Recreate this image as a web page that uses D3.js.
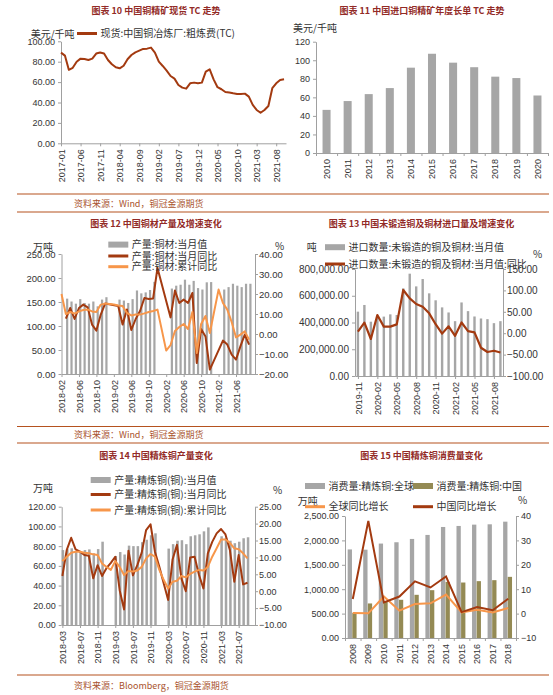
<!DOCTYPE html>
<html>
<head>
<meta charset="utf-8">
<script src="https://cdn.jsdelivr.net/npm/d3@7"></script>
<style>
  html, body { margin: 0; padding: 0; background: #fff; }
  svg { display: block; }
</style>
</head>
<body>
<svg id="chart" width="553" height="695"></svg>
<script>
// month labels "YYYY-MM" starting at year/month
function monthRange(year, month, count) {
  const out = [];
  for (let k = 0; k < count; k++) {
    const m = month - 1 + k;
    out.push(year + Math.floor(m / 12) + "-" + String(m % 12 + 1).padStart(2, "0"));
  }
  return out;
}

// ---- 图表10: TC spot ----
const tcMonths = monthRange(2017, 1, 58);
const tcTicks = ["2017-01","2017-06","2017-11","2018-04","2018-09","2019-02","2019-07","2019-12","2020-05","2020-10","2021-03","2021-08"];
const tcSpot = [88.9,86,72,74,80,83,82.7,81.7,83,88,89,88,81.7,77.5,74.5,73.5,76,82.4,86.6,89.2,90.8,92.5,92.8,93.8,
  89,80,75.8,71.2,66,63.4,57.2,54.6,53.6,58.8,59.5,58.8,59.5,70.3,72.5,62.7,55,53,50.3,49.7,49,48.4,48.4,48.7,
  45.8,37.6,32.7,30,32.7,36.6,54,58.8,62,62.7];

// ---- 图表11: annual benchmark TC ----
const tcYears = ["2010","2011","2012","2013","2014","2015","2016","2017","2018","2019","2020"];
const tcBenchmark = [46.5,56,63.5,70,92,107,97.4,92.5,82.3,80.8,62];

// ---- 图表12: copper products output ----
const cpMonths = monthRange(2018, 2, 44);
const cpTicks = ["2018-02","2018-06","2018-10","2019-02","2019-06","2019-10","2020-02","2020-06","2020-10","2021-02","2021-06"];
const cpOutput = [null,157,151,146.5,156,148,146.5,151,141,155,160,
  null,null,155,153,148,156,174,168,170,175,192,null,
  null,null,178,184,186,196.5,186,194,179,176,191,191.5,
  null,null,176,181,188,184,181,188,188];
const cpYoY = [null,7.7,13,7.5,13,14.7,13.3,4.7,1.7,9.7,15.2,
  null,null,14,4.7,12.3,2,7.5,11.5,18,17.5,17.8,33,
  null,null,8.3,21.7,15.5,17.2,15.5,20.5,-14.5,2.5,-1.2,-17.8,
  null,null,-3.3,-5.3,-10.3,-12.8,-6.2,-0.3,-5.3];
const cpCumYoY = [20,10,11,10.2,11.3,12,12.3,11.3,11,14.7,15.2,
  null,14.7,14.3,14,10.5,9.3,9.7,9.7,10.3,11,11.5,12.2,
  null,-8.3,-5.5,1.5,3.5,5,2.5,11,-9.5,5,9,0.5,
  null,22.2,15.5,12.2,6,-1.7,-0.3,1.3,-2.8];

// ---- 图表13: unwrought copper imports ----
const imMonths = monthRange(2019, 11, 23);
const imTicks = ["2019-11","2020-02","2020-05","2020-08","2020-11","2021-02","2021-05","2021-08"];
const imVolume = [481000,531000,406000,440000,444000,461000,456000,655000,765000,670000,725000,618000,
  566000,513000,475000,410000,550000,485000,445000,430000,425000,395000,410000];
const imYoY = [3.6,24.6,-13.5,42.5,15.3,15.3,20.7,101,81.5,68.2,62,46.4,21,-1,16,-6,25,5,2,-34,-44,-41,-45];

// ---- 图表14: refined copper output ----
const rfMonths = monthRange(2018, 3, 43);
const rfTicks = ["2018-03","2018-07","2018-11","2019-03","2019-07","2019-11","2020-03","2020-07","2020-11","2021-03","2021-07"];
const rfOutput = [76,77,77.8,75,74.4,76,76.7,72.7,77,84.5,
  null,null,70,74,71.5,80.5,80,80,84,86.5,91,93,
  null,null,77.5,82,85.5,86,82,90,91,92,95,99,
  null,null,90,88.5,85.5,83,84.5,88,89];
const rfYoY = [4.5,12.2,15.8,12.4,11.7,10.7,10.5,3.8,7.7,4.5,
  6.8,8.4,10.2,0.3,-5.4,12,4.7,7.7,11.4,18.1,19.8,11.7,
  7.2,2.3,-2.6,9.4,13.7,3.8,0,10,10.2,4.8,0.8,11.2,
  14.6,17.1,18.4,16.8,12.2,2.8,10.7,2,2.5];
const rfCumYoY = [8.9,10.2,11.4,11.7,11.7,11.4,11.2,10.9,10.7,8.2,
  7.2,6.3,8.9,7.2,4.8,6,5.8,6.1,7.2,9.7,11,10.2,
  6.3,3.3,0.8,2.8,3.1,4.5,4.1,5.1,5.8,6.3,6.1,7.2,
  10.2,12.7,15.3,15.3,14.3,12.7,12.4,11.2,9.7];

// ---- 图表15: refined copper consumption ----
const csYears = ["2008","2009","2010","2011","2012","2013","2014","2015","2016","2017","2018"];
const csGlobal = [1815,1810,1935,1962,2030,2112,2275,2296,2323,2330,2384];
const csChina = [515,708,745,783,885,980,1150,1137,1165,1185,1253];
const csGlobalYoY = [0.2,0.1,7,1.2,3.9,4.2,7.8,0.5,1.6,0.5,2.3];
const csChinaYoY = [6,38,4.6,7,13.2,10.7,15.2,0.6,2.7,1.4,6.1];

// colours and fonts
const dark = "#a33a10", orange = "#f7964a", gray = "#a6a6a6", olive = "#948a54";
const axisColor = "#a0a0a0", textColor = "#333";
const titleColor = "#922a26", ruleColor = "#b5521f", sourceColor = "#a9532d";
const numFont = "'Liberation Sans', Arial, sans-serif";
const cjkFont = "'Noto Sans CJK SC', sans-serif";

const svg = d3.select("#chart");

function addAxis(gen, tx, ty, fs) {
  const g = svg.append("g").attr("transform", `translate(${tx},${ty})`).call(gen);
  g.select(".domain").attr("stroke", axisColor);
  g.selectAll(".tick line").attr("stroke", axisColor);
  g.selectAll(".tick text").attr("fill", textColor)
    .style("font-family", numFont).style("font-size", fs + "px");
  return g;
}

function rotateLabels(g) {
  g.selectAll(".tick text")
    .attr("x", -6).attr("y", 0).attr("dy", "0.35em")
    .attr("transform", "rotate(-90)")
    .style("text-anchor", "end");
}

function label(x, y, txt, opts = {}) {
  return svg.append("text").attr("x", x).attr("y", y)
    .attr("fill", opts.color || textColor)
    .style("font-family", opts.font || cjkFont)
    .style("font-size", (opts.size || 10) + "px")
    .style("font-weight", opts.weight || "normal")
    .style("text-anchor", opts.anchor || "start")
    .text(txt);
}

function title(cx, y, txt) {
  label(cx, y, txt, { color: titleColor, size: 9, weight: "bold", anchor: "middle" });
}

function legendItem(x, y, type, color, txt) {
  if (type === "bar") {
    svg.append("rect").attr("x", x).attr("y", y - 3).attr("width", 20).attr("height", 6).attr("fill", color);
  } else {
    svg.append("line").attr("x1", x).attr("x2", x + 20).attr("y1", y).attr("y2", y)
      .attr("stroke", color).attr("stroke-width", 3);
  }
  label(x + 23.5, y + 3.5, txt);
}

function drawLine(values, x, y, color, width) {
  const pts = values.map((v, i) => ({ i, v })).filter(d => d.v != null);
  svg.append("path").datum(pts)
    .attr("fill", "none").attr("stroke", color).attr("stroke-width", width)
    .attr("stroke-linejoin", "round")
    .attr("d", d3.line().x(d => x(d.i)).y(d => y(d.v)));
}

function drawBars(values, x, y, color, offset, width) {
  svg.append("g").selectAll("rect")
    .data(values.map((v, i) => ({ i, v })).filter(d => d.v != null))
    .enter().append("rect")
    .attr("x", d => x(d.i) + offset)
    .attr("y", d => y(d.v))
    .attr("width", width)
    .attr("height", d => y(0) - y(d.v))
    .attr("fill", color);
}

const f2 = d3.format(".2f");

// ===== 图表10 =====
title(156, 14, "图表 10  中国铜精矿现货 TC 走势");
const x1 = d3.scaleLinear().domain([0, 57.5]).range([61, 286]);
const y1 = d3.scaleLinear().domain([0, 100]).range([143.3, 41.3]);
addAxis(d3.axisLeft(y1).tickValues(d3.range(0, 101, 20)).tickFormat(f2).tickSize(3).tickSizeOuter(0), 61, 0, 9);
rotateLabels(addAxis(d3.axisBottom(x1).tickValues(tcTicks.map(t => tcMonths.indexOf(t)))
  .tickFormat((d, k) => tcTicks[k]).tickSize(3).tickSizeOuter(0), 0, 143.3, 9));
drawLine(tcSpot, x1, y1, dark, 2);
label(30.7, 37.5, "美元/千吨");
legendItem(77, 33.5, "line", dark, "现货:中国铜冶炼厂:粗炼费(TC)");

// ===== 图表11 =====
title(422, 14, "图表 11  中国进口铜精矿年度长单 TC 走势");
const x2 = d3.scaleBand().domain(tcYears).range([316, 548]).paddingInner(0.62).paddingOuter(0.31);
const x2b = d3.scaleLinear().domain([0, tcYears.length]).range([316, 548]);
const y2 = d3.scaleLinear().domain([0, 120]).range([153, 41.7]);
addAxis(d3.axisLeft(y2).tickValues(d3.range(0, 121, 20)).tickFormat(d3.format("d")).tickSize(3).tickSizeOuter(0), 316, 0, 9);
svg.append("g").selectAll("rect").data(tcYears).enter().append("rect")
  .attr("x", d => x2(d)).attr("width", x2.bandwidth())
  .attr("y", (d, i) => y2(tcBenchmark[i])).attr("height", (d, i) => y2(0) - y2(tcBenchmark[i]))
  .attr("fill", gray);
rotateLabels(addAxis(d3.axisBottom(x2).tickSize(0).tickSizeOuter(0), 0, 153, 9));
addAxis(d3.axisBottom(x2b).tickValues(d3.range(tcYears.length + 1)).tickFormat("").tickSize(3).tickSizeOuter(0), 0, 153, 9);
label(293, 32, "美元/千吨");

// ===== 图表12 =====
title(156, 227, "图表 12  中国铜材产量及增速变化");
const x3 = d3.scaleLinear().domain([0, 44.35]).range([61.5, 255]);
const y3L = d3.scaleLinear().domain([0, 250]).range([374, 254]);
const y3R = d3.scaleLinear().domain([-20, 40]).range([374, 254]);
drawBars(cpOutput, x3, y3L, gray, 0.2, 2.2);
addAxis(d3.axisLeft(y3L).tickValues(d3.range(0, 251, 50)).tickFormat(f2).tickSize(3).tickSizeOuter(0), 61.5, 0, 9.5);
addAxis(d3.axisRight(y3R).tickValues(d3.range(-20, 41, 10)).tickFormat(f2).tickSize(3).tickPadding(1).tickSizeOuter(0), 255, 0, 9.5);
rotateLabels(addAxis(d3.axisBottom(x3).tickValues(cpTicks.map(t => cpMonths.indexOf(t)))
  .tickFormat((d, k) => cpTicks[k]).tickSize(3).tickSizeOuter(0), 0, 374, 9));
drawLine(cpYoY, x3, y3R, dark, 2);
drawLine(cpCumYoY, x3, y3R, orange, 2);
label(33, 251, "万吨");
label(275, 250, "%");
legendItem(108.3, 244.6, "bar", gray, "产量:铜材:当月值");
legendItem(108.3, 256, "line", dark, "产量:铜材:当月同比");
legendItem(108.3, 266.7, "line", orange, "产量:铜材:累计同比");

// ===== 图表13 =====
title(421.5, 227, "图表 13  中国未锻造铜及铜材进口量及增速变化");
const x4 = d3.scaleLinear().domain([-0.45, 22.4]).range([355, 503]);
const y4L = d3.scaleLinear().domain([0, 800000]).range([376, 269]);
const y4R = d3.scaleLinear().domain([-100, 150]).range([376, 269]);
drawBars(imVolume, x4, y4L, gray, -1.2, 2.4);
addAxis(d3.axisLeft(y4L).tickValues(d3.range(0, 800001, 200000)).tickFormat(d3.format(",.2f")).tickSize(3).tickSizeOuter(0), 355, 0, 10);
addAxis(d3.axisRight(y4R).tickValues(d3.range(-100, 151, 50)).tickFormat(f2).tickSize(3).tickPadding(1).tickSizeOuter(0), 503, 0, 10);
rotateLabels(addAxis(d3.axisBottom(x4).tickValues(imTicks.map(t => imMonths.indexOf(t)))
  .tickFormat((d, k) => imTicks[k]).tickSize(3).tickSizeOuter(0), 0, 376, 9));
drawLine(imYoY, x4, y4R, dark, 2.2);
label(306.7, 251, "吨");
label(533, 258, "%");
legendItem(325, 247.2, "bar", gray, "进口数量:未锻造的铜及铜材:当月值");
legendItem(325, 264, "line", dark, "进口数量:未锻造的铜及铜材:当月值:同比");

// ===== 图表14 =====
title(156, 458.5, "图表 14  中国精炼铜产量变化");
const x5 = d3.scaleLinear().domain([-0.15, 43.7]).range([61.7, 255]);
const y5L = d3.scaleLinear().domain([0, 120]).range([625, 506.7]);
const y5R = d3.scaleLinear().domain([-10, 25]).range([625, 506.7]);
drawBars(rfOutput, x5, y5L, gray, -0.7, 2.5);
addAxis(d3.axisLeft(y5L).tickValues(d3.range(0, 121, 20)).tickFormat(f2).tickSize(3).tickSizeOuter(0), 61.7, 0, 9);
addAxis(d3.axisRight(y5R).tickValues(d3.range(-10, 26, 5)).tickFormat(f2).tickSize(3).tickPadding(1).tickSizeOuter(0), 255, 0, 9);
rotateLabels(addAxis(d3.axisBottom(x5).tickValues(rfTicks.map(t => rfMonths.indexOf(t)))
  .tickFormat((d, k) => rfTicks[k]).tickSize(3).tickSizeOuter(0), 0, 625, 9));
drawLine(rfYoY, x5, y5R, dark, 2);
drawLine(rfCumYoY, x5, y5R, orange, 2);
label(33, 492, "万吨");
label(273, 494, "%");
legendItem(90.7, 480, "bar", gray, "产量:精炼铜(铜):当月值");
legendItem(90.7, 494.5, "line", dark, "产量:精炼铜(铜):当月同比");
legendItem(90.7, 510, "line", orange, "产量:精炼铜(铜):累计同比");

// ===== 图表15 =====
title(421.5, 458.5, "图表 15  中国精炼铜消费量变化");
const x6 = d3.scaleBand().domain(csYears).range([345, 516]);
const x6b = d3.scaleLinear().domain([0, csYears.length]).range([345, 516]);
const y6L = d3.scaleLinear().domain([0, 2500]).range([638, 516]);
const y6R = d3.scaleLinear().domain([-10, 40]).range([638, 516]);
const mid6 = d => x6(d) + x6.bandwidth() / 2;
svg.append("g").selectAll("rect").data(csYears).enter().append("rect")
  .attr("x", d => mid6(d) - 5.1).attr("width", 4.3)
  .attr("y", (d, i) => y6L(csGlobal[i])).attr("height", (d, i) => y6L(0) - y6L(csGlobal[i]))
  .attr("fill", gray);
svg.append("g").selectAll("rect").data(csYears).enter().append("rect")
  .attr("x", d => mid6(d) - 0.5).attr("width", 4.3)
  .attr("y", (d, i) => y6L(csChina[i])).attr("height", (d, i) => y6L(0) - y6L(csChina[i]))
  .attr("fill", olive);
addAxis(d3.axisLeft(y6L).tickValues(d3.range(0, 2501, 500)).tickFormat(d3.format(",.2f")).tickSize(3).tickSizeOuter(0), 345, 0, 9);
addAxis(d3.axisRight(y6R).tickValues(d3.range(-10, 41, 10)).tickFormat(d3.format("d")).tickSize(3).tickPadding(2).tickSizeOuter(0), 516, 0, 9);
rotateLabels(addAxis(d3.axisBottom(x6).tickSize(0).tickSizeOuter(0), 0, 638, 9));
addAxis(d3.axisBottom(x6b).tickValues(d3.range(csYears.length + 1)).tickFormat("").tickSize(3).tickSizeOuter(0), 0, 638, 9);
const line6 = vals => d3.line().x((d, i) => mid6(csYears[i])).y(d => y6R(d))(vals);
svg.append("path").attr("d", line6(csGlobalYoY)).attr("fill", "none").attr("stroke", orange).attr("stroke-width", 2);
svg.append("path").attr("d", line6(csChinaYoY)).attr("fill", "none").attr("stroke", dark).attr("stroke-width", 2);
label(297.7, 505, "万吨");
label(518, 503.5, "%");
legendItem(305, 486, "bar", gray, "消费量:精炼铜:全球");
legendItem(413, 486, "bar", olive, "消费量:精炼铜:中国");
legendItem(305, 506.7, "line", orange, "全球同比增长");
legendItem(413, 506.7, "line", dark, "中国同比增长");

// ===== rules and sources =====
[194, 212, 426.5, 443, 675].forEach(y => {
  svg.append("line").attr("x1", 17).attr("x2", 549).attr("y1", y).attr("y2", y)
    .attr("stroke", ruleColor).attr("stroke-width", 1.2);
});
label(74, 206.5, "资料来源：Wind，铜冠金源期货", { color: sourceColor, size: 9 });
label(74, 437.5, "资料来源：Wind，铜冠金源期货", { color: sourceColor, size: 9 });
label(74, 688.5, "资料来源：Bloomberg，铜冠金源期货", { color: sourceColor, size: 9 });
</script>
</body>
</html>
